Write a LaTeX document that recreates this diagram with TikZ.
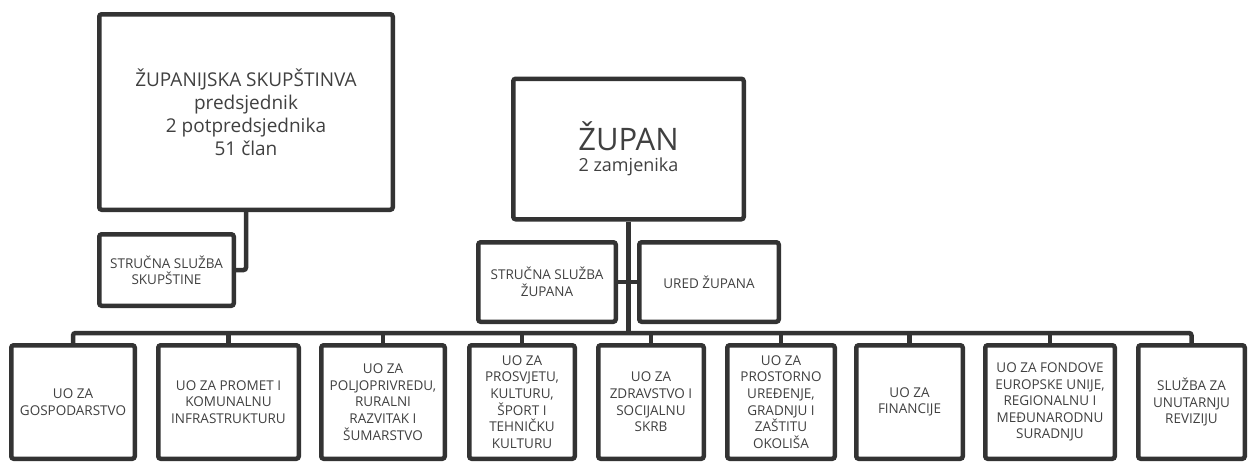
\documentclass[tikz,border=0pt]{standalone}
\usepackage{fontspec}
\setmainfont{Open Sans}
\definecolor{linegray}{HTML}{333333}
\definecolor{textgray}{HTML}{404040}
\tikzset{
  box/.style={draw=linegray, line width=4.5pt, rounded corners=2.5pt,
              inner sep=0pt, align=center, text=textgray},
  unit/.style={box, minimum height=113.5pt,
               font=\fontsize{13.5}{16.6}\selectfont},
  conn/.style={draw=linegray, line width=4.5pt, rounded corners=2.5pt},
}
\begin{document}
\begin{tikzpicture}[x=1pt,y=-1pt]
    \useasboundingbox (0,0) rectangle (1249,461);   % page size

    % Assembly and its office
    \node[box, minimum width=293.5pt, minimum height=195.5pt,
          font=\fontsize{19}{23}\selectfont] (skup) at (246,112)
          {ŽUPANIJSKA SKUPŠTINVA\\predsjednik\\2 potpredsjednika\\51 član};
    \node[box, minimum width=134.5pt, minimum height=71.5pt,
          font=\fontsize{13.5}{16}\selectfont] (sskup) at (166.5,270)
          {STRUČNA SLUŽBA\\SKUPŠTINE};
    \draw[conn] (skup.south) |- (sskup.east);

    % Prefect and his offices
    \node[box, minimum width=230.5pt, minimum height=140.5pt] (zupan) at (628.5,149)
          {\fontsize{31}{36}\selectfont ŽUPAN\\[6pt]\fontsize{18}{22}\selectfont 2 zamjenika};
    \node[box, minimum width=137.5pt, minimum height=79.5pt,
          font=\fontsize{13.5}{17}\selectfont] (szup) at (547,282)
          {STRUČNA SLUŽBA\\ŽUPANA};
    \node[box, minimum width=139.5pt, minimum height=79.5pt,
          font=\fontsize{13.5}{17}\selectfont] (ured) at (709,282)
          {URED ŽUPANA};
    \draw[conn] (szup.east) -- (ured.west);

    %Loop for drawing the departments
    \foreach \n/\cx/\w/\txt in {
        1/73/123.5/{UO ZA\\GOSPODARSTVO},
        2/228.5/140.5/{UO ZA PROMET I\\KOMUNALNU\\INFRASTRUKTURU},
        3/383/123.5/{UO ZA\\POLJOPRIVREDU,\\RURALNI\\RAZVITAK I\\ŠUMARSTVO},
        4/522/105.5/{UO ZA\\PROSVJETU,\\KULTURU,\\ŠPORT I\\TEHNIČKU\\KULTURU},
        5/651/105.5/{UO ZA\\ZDRAVSTVO I\\SOCIJALNU\\SKRB},
        6/781/107.5/{UO ZA\\PROSTORNO\\UREĐENJE,\\GRADNJU I\\ZAŠTITU\\OKOLIŠA},
        7/909.5/106.5/{UO ZA\\FINANCIJE},
        8/1050/129.5/{UO ZA FONDOVE\\EUROPSKE UNIJE,\\REGIONALNU I\\MEĐUNARODNU\\SURADNJU},
        9/1191.5/106.5/{SLUŽBA ZA\\UNUTARNJU\\REVIZIJU}} {
        \node[unit, minimum width=\w pt] (uo\n) at (\cx,402) {\txt};
    }

    % Bus from the prefect to the departments
    \coordinate (bus) at (628.5,333);
    \draw[conn] (uo1.north) |- (bus) -| (uo9.north);
    \draw[conn] (zupan.south) -- (bus);
    \foreach \n in {2,...,8} {
        \draw[conn] (uo\n.north) -- (uo\n.north |- bus);
    }
\end{tikzpicture}
\end{document}
